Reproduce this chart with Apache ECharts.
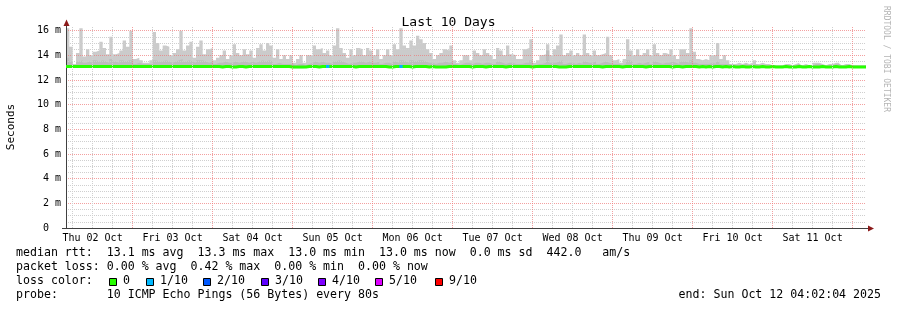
<!DOCTYPE html>
<html><head><meta charset="utf-8">
<script src="https://cdn.jsdelivr.net/npm/echarts@6/dist/echarts.min.js"></script>
<style>html,body{margin:0;padding:0;background:#fff}#c{width:897px;height:310px}</style>
</head><body><div id="c"></div>
<script>
// ---- data (hours since Thu 02 Oct 00:00; one value per hour) ----
const startHour = 4.0344;   // Thu 02 Oct 04:02:04
const dayLabels = ['Thu 02 Oct','Fri 03 Oct','Sat 04 Oct','Sun 05 Oct','Mon 06 Oct','Tue 07 Oct','Wed 08 Oct','Thu 09 Oct','Fri 10 Oct','Sat 11 Oct'];
const dayLabelHours = [12,36,60,84,108,132,156,180,204,228];
const yTickLabels = [0,2,4,6,8,10,12,14,16];

// max ping (top of smoke), ms
const smokeHi = [
16.2,14.7,13.3,14.2,16.2,13.9,14.5,14.0,14.3,14.4,
15.1,14.6,14.1,15.5,14.1,14.2,14.4,15.2,14.7,16.0,
13.7,13.8,13.6,13.4,13.4,13.6,15.9,15.0,14.4,14.8,
14.7,14.0,14.2,14.5,16.0,14.4,14.8,15.1,13.8,14.7,
15.2,14.1,14.5,14.6,13.6,13.8,14.0,14.4,13.7,14.0,
14.9,14.2,14.0,14.5,14.1,14.4,13.8,14.6,14.9,14.4,
15.0,14.8,13.8,14.5,13.7,14.0,13.7,14.0,13.4,13.7,
14.0,13.4,14.0,14.0,14.8,14.5,14.6,14.2,14.4,14.0,
14.8,16.2,14.6,14.2,13.8,14.5,14.0,14.6,14.5,14.0,
14.6,14.4,14.0,14.5,13.7,14.0,14.5,14.0,14.9,14.5,
16.2,14.8,14.6,15.2,14.8,15.6,15.3,15.0,14.5,14.2,
13.7,14.0,14.2,14.5,14.4,14.8,13.6,13.4,13.6,14.0,
14.0,13.6,14.4,14.2,14.0,14.5,14.2,14.0,13.7,14.6,
14.4,14.0,14.8,14.1,14.0,13.7,13.7,14.5,14.6,15.3,
13.4,13.6,14.0,14.1,14.9,14.0,14.5,14.8,15.7,14.0,
14.2,14.4,14.0,14.2,14.0,15.7,14.2,14.0,14.4,14.0,
14.1,14.2,15.5,14.0,13.6,13.7,13.4,13.7,15.3,14.4,
14.0,14.5,14.0,14.2,14.5,14.0,14.9,14.2,14.0,14.2,
14.1,14.5,14.0,13.7,14.5,14.5,14.2,16.2,14.3,13.7,
13.6,13.7,13.6,14.0,14.0,15.0,13.7,14.0,13.6,13.3,
13.3,13.4,13.3,13.4,13.3,13.4,13.6,13.3,13.4,13.3,
13.3,13.2,13.2,13.2,13.2,13.3,13.3,13.2,13.3,13.4,
13.2,13.3,13.2,13.2,13.4,13.4,13.3,13.2,13.3,13.3,
13.4,13.4,13.2,13.3,13.3,13.2,13.2,13.2,13.2,13.2
];
// inner (darker) smoke top, ms
const smokeMid = [
13.8,13.5,13.2,13.5,13.6,13.4,13.5,13.4,13.6,13.5,
13.6,13.5,13.4,13.7,13.5,13.4,13.6,13.5,13.6,13.6,
13.3,13.4,13.3,13.3,13.3,13.3,13.6,13.5,13.5,13.6,
13.5,13.4,13.5,13.6,13.7,13.5,13.6,13.5,13.4,13.6,
13.6,13.5,13.4,13.5,13.3,13.4,13.4,13.5,13.4,13.4,
13.5,13.4,13.5,13.5,13.4,13.5,13.4,13.5,13.6,13.5,
13.6,13.5,13.3,13.4,13.3,13.3,13.3,13.3,13.2,13.3,
13.3,13.2,13.3,13.4,13.5,13.4,13.5,13.4,13.4,13.3,
13.5,13.6,13.5,13.4,13.3,13.4,13.4,13.5,13.5,13.4,
13.5,13.4,13.4,13.5,13.3,13.4,13.4,13.3,13.5,13.4,
13.6,13.5,13.4,13.6,13.5,13.6,13.6,13.5,13.4,13.4,
13.3,13.4,13.4,13.5,13.4,13.5,13.3,13.2,13.3,13.4,
13.4,13.3,13.4,13.4,13.3,13.4,13.4,13.3,13.3,13.5,
13.4,13.3,13.4,13.4,13.3,13.3,13.3,13.4,13.4,13.6,
13.2,13.3,13.3,13.4,14.4,13.4,13.4,13.5,13.6,13.3,
13.4,13.4,13.3,13.4,13.3,13.5,13.4,13.4,13.5,13.3,
13.4,13.5,13.4,13.3,13.3,13.3,13.2,13.3,13.6,13.5,
13.3,13.4,13.3,13.4,13.5,13.3,13.5,13.4,13.3,13.4,
13.4,13.5,13.4,13.3,13.5,13.5,13.4,13.6,13.4,13.3,
13.3,13.3,13.3,13.4,13.3,13.5,13.3,13.3,13.3,13.2,
13.2,13.2,13.2,13.3,13.2,13.2,13.3,13.2,13.2,13.2,
13.2,13.15,13.15,13.15,13.15,13.2,13.2,13.15,13.2,13.3,
13.15,13.2,13.15,13.15,13.3,13.3,13.2,13.15,13.2,13.2,
13.3,13.3,13.15,13.2,13.2,13.15,13.15,13.15,13.15,13.15
];
// min ping (bottom of smoke), ms
const smokeLo = [
12.98,13.0,13.0,13.0,12.98,13.0,13.0,13.0,13.0,13.0,
13.0,13.0,13.0,12.98,13.0,13.0,13.0,13.0,13.0,12.98,
13.0,13.0,13.0,13.0,13.0,13.0,12.98,13.0,13.0,13.0,
13.0,13.0,13.0,13.0,12.98,13.0,13.0,13.0,13.0,13.0,
13.0,13.0,13.0,13.0,13.0,12.98,13.0,13.0,12.98,12.98,
13.0,13.0,13.0,12.98,13.0,13.0,13.0,13.0,13.0,13.0,
13.0,13.0,13.0,13.0,13.0,13.0,13.0,12.96,12.96,12.96,
12.96,12.98,13.0,13.0,13.0,12.98,13.0,13.0,13.0,13.0,
13.0,13.0,13.0,13.0,13.0,13.0,12.98,13.0,13.0,13.0,
13.0,13.0,13.0,13.0,13.0,13.0,12.98,12.98,13.0,13.0,
13.0,13.0,13.0,12.98,13.0,13.0,13.0,13.0,12.98,13.0,
12.98,12.98,12.98,12.98,13.0,13.0,13.0,13.0,13.0,13.0,
13.0,12.98,13.0,13.0,13.0,12.98,13.0,13.0,13.0,13.0,
13.0,12.98,13.0,13.0,13.0,13.0,13.0,13.0,13.0,12.98,
13.0,13.0,13.0,13.0,13.0,13.0,13.0,12.98,12.98,12.98,
13.0,13.0,13.0,13.0,13.0,13.0,13.0,13.0,13.0,13.0,
12.98,13.0,13.0,13.0,13.0,13.0,12.98,13.0,13.0,13.0,
13.0,13.0,13.0,12.98,13.0,13.0,13.0,13.0,13.0,13.0,
13.0,12.98,13.0,13.0,12.98,13.0,13.0,13.0,13.0,12.98,
13.0,12.98,13.0,12.98,13.0,13.0,12.98,13.0,12.98,13.0,
12.98,12.98,13.0,12.98,12.98,13.0,12.98,12.98,13.0,12.98,
12.98,13.0,12.98,12.98,12.98,13.0,12.98,12.98,12.98,13.0,
12.98,12.98,13.0,12.98,12.98,12.98,13.0,12.98,12.98,12.98,
13.0,12.98,12.98,12.98,13.0,12.98,12.98,12.98,12.98,12.98
];
// median rtt, ms
const medianRtt = [
13.1,13.1,13.1,13.1,13.1,13.1,13.1,13.1,13.1,13.1,
13.1,13.1,13.1,13.1,13.1,13.1,13.1,13.1,13.1,13.1,
13.1,13.1,13.1,13.1,13.1,13.1,13.1,13.1,13.1,13.1,
13.1,13.1,13.1,13.1,13.1,13.1,13.1,13.1,13.1,13.1,
13.1,13.1,13.1,13.1,13.1,13.1,13.05,13.1,13.1,13.05,
13.05,13.1,13.1,13.05,13.1,13.1,13.1,13.1,13.1,13.1,
13.1,13.1,13.1,13.1,13.1,13.1,13.1,13.05,13.05,13.05,
13.05,13.05,13.1,13.1,13.1,13.05,13.1,13.1,13.1,13.1,
13.1,13.1,13.1,13.1,13.1,13.1,13.05,13.1,13.1,13.1,
13.1,13.1,13.1,13.1,13.1,13.1,13.05,13.05,13.1,13.1,
13.1,13.1,13.1,13.05,13.1,13.1,13.1,13.1,13.05,13.1,
13.05,13.05,13.05,13.05,13.1,13.1,13.1,13.1,13.1,13.1,
13.1,13.05,13.1,13.1,13.1,13.05,13.1,13.1,13.1,13.1,
13.1,13.05,13.1,13.1,13.1,13.1,13.1,13.1,13.1,13.05,
13.1,13.1,13.1,13.1,13.1,13.1,13.1,13.05,13.05,13.05,
13.1,13.1,13.1,13.1,13.1,13.1,13.1,13.1,13.1,13.1,
13.05,13.1,13.1,13.1,13.1,13.1,13.05,13.1,13.1,13.1,
13.1,13.1,13.1,13.05,13.1,13.1,13.1,13.1,13.1,13.1,
13.1,13.05,13.1,13.1,13.05,13.1,13.1,13.1,13.1,13.05,
13.1,13.05,13.1,13.05,13.1,13.1,13.05,13.1,13.05,13.1,
13.05,13.05,13.1,13.05,13.05,13.1,13.05,13.05,13.1,13.05,
13.05,13.1,13.05,13.05,13.05,13.1,13.05,13.05,13.05,13.1,
13.05,13.05,13.1,13.05,13.05,13.05,13.1,13.05,13.05,13.05,
13.1,13.05,13.05,13.05,13.1,13.05,13.05,13.05,13.05,13.05
];
// hours (index into the arrays) with 1/10 packet loss
const loss1of10Hours = [78, 100];

const lossLegend = [
  {label:'0',    color:'#26ff00'},
  {label:'1/10', color:'#00b8ff'},
  {label:'2/10', color:'#0059ff'},
  {label:'3/10', color:'#5e00ff'},
  {label:'4/10', color:'#7e00ff'},
  {label:'5/10', color:'#dd00ff'},
  {label:'9/10', color:'#ff0000'}
];
const legendLines = [
  'median rtt:  13.1 ms avg  13.3 ms max  13.0 ms min  13.0 ms now  0.0 ms sd  442.0   am/s',
  'packet loss: 0.00 % avg  0.42 % max  0.00 % min  0.00 % now',
  'loss color:',
  'probe:       10 ICMP Echo Pings (56 Bytes) every 80s'
];
const endText = 'end: Sun Oct 12 04:02:04 2025';

// ---- build ----
const N = smokeHi.length;
const xOf = i => startHour + i;
function stepData(vals){
  const d = vals.map((v,i)=>[xOf(i), v]);
  d.push([xOf(N), vals[N-1]]);
  return d;
}
const hiD = stepData(smokeHi);
const midD = stepData(smokeMid.map((v,i)=>Math.min(v, smokeHi[i])));
const loD = stepData(smokeLo);
const medD = stepData(medianRtt);
const lossD = [];
loss1of10Hours.forEach(h => { lossD.push([xOf(h), medianRtt[h]]); lossD.push([xOf(h+1), medianRtt[h]]); lossD.push([xOf(h+1), null]); });

const FONT = 'DejaVu Sans Mono';
const RED = 'rgba(238,120,120,0.7)';
const GREY = '#cfcfcf';
const vLines = [];
for (let h = 6; h < startHour + N; h += 6) {
  if (h <= startHour) continue;
  vLines.push({xAxis: h, lineStyle: {color: h % 24 === 0 ? RED : GREY, width: 1, type: [1,1]}});
}

const graphics = [];
legendLines.forEach((t, k) => graphics.push({type:'text', left: 16, top: 247 + 14*k, style:{text:t, font:'11.6px "'+FONT+'"', fill:'#000'}}));
const boxX = [109,146,203,261,318,375,435];
lossLegend.forEach((e,k)=>{
  graphics.push({type:'rect', shape:{x:boxX[k]+0.5, y:278.5, width:7, height:7}, style:{fill:e.color, stroke:'#000', lineWidth:1}});
  graphics.push({type:'text', left: boxX[k]+14, top: 275, style:{text:e.label, font:'11.6px "'+FONT+'"', fill:'#000'}});
});
graphics.push({type:'text', right: 16, top: 289, style:{text:endText, font:'11.6px "'+FONT+'"', fill:'#000'}});
graphics.push({type:'text', x: 11, y: 127, rotation: Math.PI/2, style:{text:'Seconds', font:'11px "'+FONT+'"', fill:'#000', align:'center', verticalAlign:'middle'}});
graphics.push({type:'text', x: 886, y: 59, rotation: -Math.PI/2, style:{text:'RRDTOOL / TOBI OETIKER', font:'8px "'+FONT+'"', fill:'#b4b4b4', align:'center', verticalAlign:'middle'}});
graphics.push({type:'line', shape:{x1:66.5,y1:27,x2:66.5,y2:25}, style:{stroke:'#404040', lineWidth:1}});
graphics.push({type:'line', shape:{x1:62,y1:228.5,x2:66,y2:228.5}, style:{stroke:'#404040', lineWidth:1}});
graphics.push({type:'line', shape:{x1:866,y1:228.5,x2:869,y2:228.5}, style:{stroke:'#404040', lineWidth:1}});
graphics.push({type:'polygon', shape:{points:[[66.5,19.5],[63.5,26],[69.5,26]]}, style:{fill:'#8b1a1a'}});
graphics.push({type:'polygon', shape:{points:[[874,228.5],[868,225.5],[868,231.5]]}, style:{fill:'#8b1a1a'}});

const areaSeries = (name, data, color) => ({
  name, type:'line', step:'end', data, symbol:'none', silent:true, z:1,
  lineStyle:{width:0, opacity:0}, areaStyle:{color, opacity:1, origin:'start'}
});

const chart = echarts.init(document.getElementById('c'), null, {renderer:'canvas'});
chart.setOption({
  animation: false,
  backgroundColor: '#fff',
  title: {text:'Last 10 Days', left:'center', top: 11, textStyle:{fontFamily:FONT, fontSize:13, fontWeight:'normal', color:'#000'}},
  grid: {left: 66, right: 31, top: 27, bottom: 82, containLabel: false},
  xAxis: {
    type:'value', min: startHour, max: startHour + N,
    axisLine:{show:true, onZero:false, lineStyle:{color:'#404040', width:1}},
    axisTick:{show:false},
    splitLine:{show:false},
    axisLabel:{customValues: dayLabelHours, margin: 5, fontFamily:FONT, fontSize:10, color:'#000',
      formatter: v => dayLabels[dayLabelHours.indexOf(Math.round(v))] || ''}
  },
  yAxis: {
    type:'value', min:0, max:16.3, interval:0.5, z: 2,
    axisLine:{show:true, lineStyle:{color:'#404040', width:1}},
    axisTick:{show:false},
    splitLine:{show:true, showMinLine:false, showMaxLine:false, lineStyle:{color:[GREY,GREY,GREY,RED], width:1, type:[1,1]}},
    axisLabel:{showMaxLabel:false, margin:5, fontFamily:FONT, fontSize:10, color:'#000',
      formatter: v => yTickLabels.includes(v) ? (v === 0 ? '0  ' : v + ' m') : ''}
  },
  series: [
    areaSeries('hi', hiD, '#cbcbcb'),
    areaSeries('mid', midD, '#bdbdbd'),
    areaSeries('lo', loD, '#ffffff'),
    {name:'grid', type:'line', data: [[startHour, null]], symbol:'none', z:2, silent:true,
      markLine:{silent:true, symbol:['none','none'], label:{show:false}, animation:false, data: vLines}},
    {name:'median', type:'line', step:'end', data: medD, symbol:'none', lineStyle:{color:'#26ff00', width:3}, z:3, silent:true},
    {name:'loss 1/10', type:'line', step:'end', data: lossD, symbol:'none', connectNulls:false, lineStyle:{color:'#00b8ff', width:3}, z:4, silent:true}
  ],
  graphic: graphics
});
</script>
</body></html>
